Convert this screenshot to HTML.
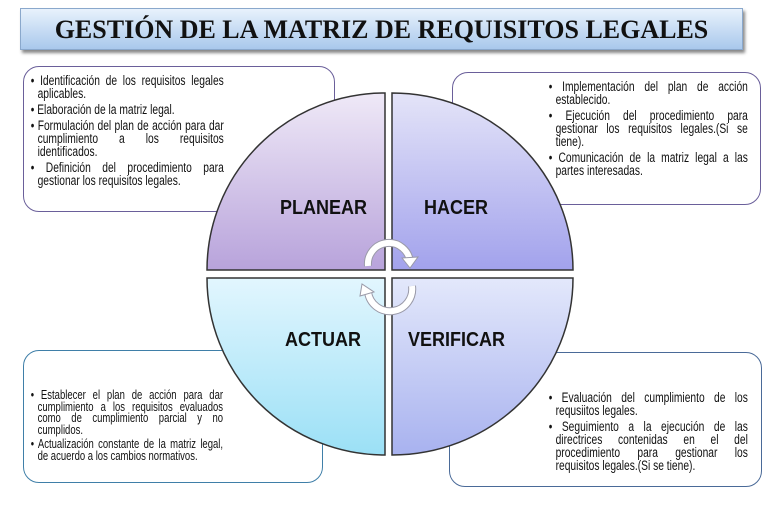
<!DOCTYPE html>
<html><head><meta charset="utf-8"><style>
body{margin:0;width:763px;height:507px;background:#fff;position:relative;overflow:hidden;font-family:"Liberation Sans",sans-serif}
.title{position:absolute;left:20px;top:8px;width:721px;height:40px;background:linear-gradient(#e8f2fc,#a9c8ec);border:1px solid #8aa8cc;box-shadow:2px 3px 3px #888;text-align:center;font:bold 26px/41px "Liberation Serif",serif;color:#111}
.box{position:absolute;border:1px solid #6a5f9a;border-radius:16px;background:#fff}
.t{position:absolute;font-size:13.5px;line-height:13px;color:#111;text-align:justify;transform:scaleX(0.76);transform-origin:left top}
.t p{margin:0 0 3px 0;padding-left:10px;text-indent:-9px}
.lab{position:absolute;font:bold 20px "Liberation Sans",sans-serif;color:#111;transform:scaleX(0.9);transform-origin:left top}
</style></head><body>
<div class="title">GESTIÓN DE LA MATRIZ DE REQUISITOS LEGALES</div>
<div class="box" style="left:23px;top:66px;width:310px;height:144px;border-color:#6a5f9a"></div>
<div class="box" style="left:452px;top:72px;width:307px;height:131px;border-color:#6a5f9a"></div>
<div class="box" style="left:23px;top:350px;width:298px;height:131px;border-color:#3f7fa8"></div>
<div class="box" style="left:449px;top:352px;width:311px;height:133px;border-color:#4a6a98"></div>
<svg width="763" height="507" style="position:absolute;left:0;top:0">
<defs>
<linearGradient id="g1" x1="0" y1="0" x2="0" y2="1"><stop offset="0" stop-color="#efe9f7"/><stop offset="1" stop-color="#b8a3db"/></linearGradient>
<linearGradient id="g2" x1="0" y1="0" x2="0" y2="1"><stop offset="0" stop-color="#e4e4f8"/><stop offset="1" stop-color="#a2a2ec"/></linearGradient>
<linearGradient id="g3" x1="0" y1="0" x2="0" y2="1"><stop offset="0" stop-color="#e2f6fe"/><stop offset="1" stop-color="#9be0f6"/></linearGradient>
<linearGradient id="g4" x1="0" y1="0" x2="0" y2="1"><stop offset="0" stop-color="#e3e8fb"/><stop offset="1" stop-color="#a8b2ef"/></linearGradient>
</defs>
<g stroke="#333" stroke-width="1.5">
<path d="M385,270 L207,270 A178,177 0 0 1 385,93 Z" fill="url(#g1)"/>
<path d="M392,270 L392,93 A181,177 0 0 1 573,270 Z" fill="url(#g2)"/>
<path d="M385,278 L385,455 A178,177 0 0 1 207,278 Z" fill="url(#g3)"/>
<path d="M392,278 L573,278 A181,177 0 0 1 392,455 Z" fill="url(#g4)"/>
</g>
<g fill="none" stroke="#9a9aa8" stroke-width="8">
<path d="M368,266 A21,21 0 0 1 410,262"/>
<path d="M412,286 A22,22 0 0 1 368,292"/>
</g>
<g fill="none" stroke="#fff" stroke-width="6">
<path d="M368,266 A21,21 0 0 1 410,262"/>
<path d="M412,286 A22,22 0 0 1 368,292"/>
</g>
<path d="M402,258 L418,257 L410,268 Z" fill="#fff" stroke="#9a9aa8" stroke-width="1"/>
<path d="M360,296 L362,284 L374,292 Z" fill="#fff" stroke="#9a9aa8" stroke-width="1"/>
</svg>
<div class="lab" style="left:280px;top:197px">PLANEAR</div>
<div class="lab" style="left:424px;top:197px">HACER</div>
<div class="lab" style="left:285px;top:329px">ACTUAR</div>
<div class="lab" style="left:408px;top:329px">VERIFICAR</div>
<div class="t" style="left:30px;top:74px;width:255px">
<p>• Identificación de los requisitos legales aplicables.</p>
<p>• Elaboración de la matriz legal.</p>
<p>• Formulación del plan de acción para dar cumplimiento a los requisitos identificados.</p>
<p>• Definición del procedimiento para gestionar los requisitos legales.</p>
</div>
<div class="t" style="left:548px;top:80px;width:263px">
<p>• Implementación del plan de  acción establecido.</p>
<p>• Ejecución del procedimiento para gestionar los requisitos legales.(Si se tiene).</p>
<p>• Comunicación de la matriz legal a las partes interesadas.</p>
</div>
<div class="t" style="left:30px;top:390px;width:254px;font-size:12.5px;line-height:11.5px">
<p>• Establecer el plan de acción para dar cumplimiento a los requisitos evaluados como de cumplimiento parcial y no cumplidos.</p>
<p>• Actualización constante de la matriz legal, de acuerdo a los cambios normativos.</p>
</div>
<div class="t" style="left:548px;top:391px;width:263px">
<p>• Evaluación del cumplimiento de los requsiitos legales.</p>
<p>• Seguimiento a la ejecución de las directrices contenidas en el del procedimiento para gestionar los requisitos legales.(Si se tiene).</p>
</div>
</body></html>
